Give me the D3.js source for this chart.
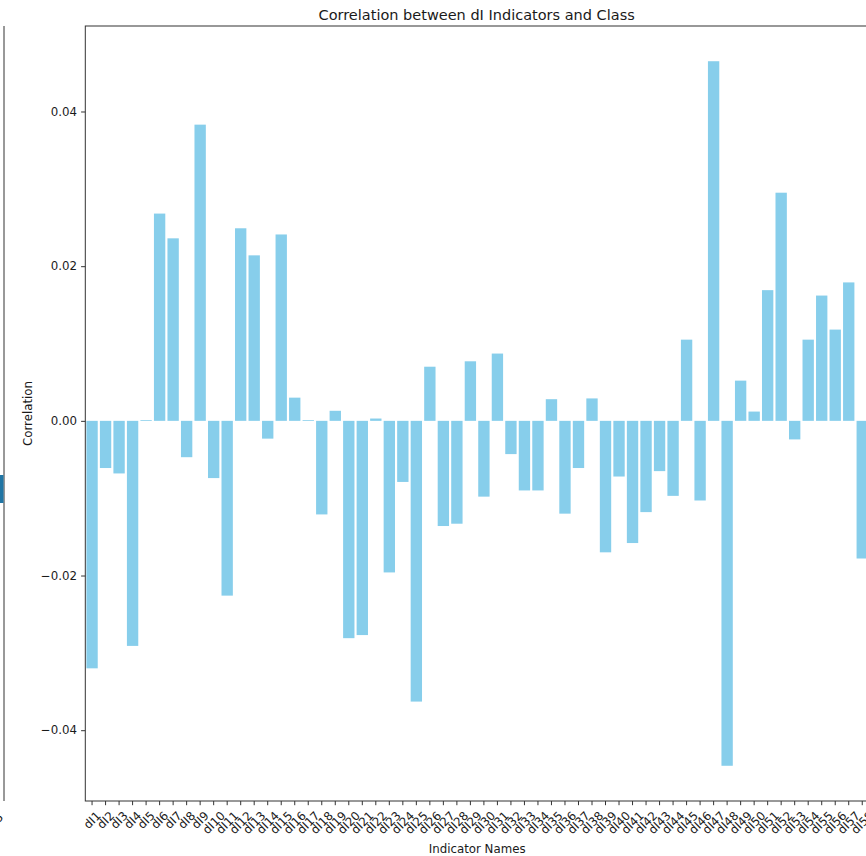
<!DOCTYPE html>
<html>
<head>
<meta charset="utf-8">
<script src="https://cdn.jsdelivr.net/npm/d3@7/dist/d3.min.js"></script>
<style>
  html, body { margin: 0; padding: 0; background: #fff; overflow: hidden; }
  svg { display: block; font-family: "DejaVu Sans", sans-serif; }
</style>
</head>
<body>
<svg id="chart" width="866" height="856"></svg>
<script>
// Indicator names dI1 .. dI58
const indicators = d3.range(1, 59).map(i => "dI" + i);

// Correlation of each indicator with the class label
const correlations = [
  -0.0320, -0.0061, -0.0068, -0.0291,  0.0001,  0.0268,  0.0236, -0.0047,  0.0383, -0.0074,
  -0.0226,  0.0249,  0.0214, -0.0023,  0.0241,  0.0030,  0.0001, -0.0121,  0.0013, -0.0281,
  -0.0277,  0.0003, -0.0196, -0.0079, -0.0363,  0.0070, -0.0136, -0.0133,  0.0077, -0.0098,
   0.0087, -0.0043, -0.0090, -0.0090,  0.0028, -0.0120, -0.0061,  0.0029, -0.0170, -0.0072,
  -0.0158, -0.0118, -0.0065, -0.0097,  0.0105, -0.0103,  0.0465, -0.0446,  0.0052,  0.0012,
   0.0169,  0.0295, -0.0024,  0.0105,  0.0162,  0.0118,  0.0179, -0.0178
];

const yTicks = [-0.04, -0.02, 0.00, 0.02, 0.04];

const titleText = "Correlation between dI Indicators and Class";
const xLabelText = "Indicator Names";
const yLabelText = "Correlation";

const svg = d3.select("#chart");
const ink = "#1a1a1a";
const fs = 11.8;

// plot area (right edge runs past the page)
const L = 85.3, T = 26, R = 869, B = 801;

const x = d3.scaleBand()
  .domain(indicators)
  .range([L, R])
  .paddingInner(0.16)
  .paddingOuter(0.08);

// 5% margin around the data extent
const lo = d3.min(correlations), hi = d3.max(correlations);
const m = (hi - lo) * 0.05;
const y = d3.scaleLinear().domain([lo - m, hi + m]).range([B, T]);

// edge of the neighbouring panel on the left
svg.append("line")
  .attr("x1", 4).attr("x2", 4).attr("y1", T).attr("y2", B)
  .attr("stroke", "#333").attr("stroke-width", 1);
svg.append("rect")
  .attr("x", 0).attr("y", 475).attr("width", 3.5).attr("height", 28)
  .attr("fill", "#2176a5");
svg.append("text")
  .attr("transform", "translate(4,818) rotate(-45)")
  .attr("text-anchor", "end")
  .attr("font-size", fs).attr("fill", ink)
  .text("5");

// bars
svg.append("g").selectAll("rect")
  .data(correlations)
  .join("rect")
  .attr("x", (d, i) => x(indicators[i]))
  .attr("width", x.bandwidth())
  .attr("y", d => y(Math.max(0, d)))
  .attr("height", d => Math.abs(y(d) - y(0)))
  .attr("fill", "skyblue");

// frame
svg.append("rect")
  .attr("x", L).attr("y", T).attr("width", R - L).attr("height", B - T)
  .attr("fill", "none").attr("stroke", "#333").attr("stroke-width", 1);

// y axis
const yAxis = d3.axisLeft(y)
  .tickValues(yTicks)
  .tickSize(4.2)
  .tickPadding(4.2)
  .tickFormat(d => d3.format(".2f")(d).replace("-", "\u2212"));
const gy = svg.append("g").attr("transform", `translate(${L},0)`).call(yAxis);
gy.select(".domain").remove();
gy.selectAll("line").attr("stroke", "#333");
gy.selectAll("text").attr("font-size", fs).attr("fill", ink)
  .attr("font-family", "DejaVu Sans");

// x axis
const xAxis = d3.axisBottom(x).tickSize(4.2).tickFormat("");
const gx = svg.append("g").attr("transform", `translate(0,${B})`).call(xAxis);
gx.select(".domain").remove();
gx.selectAll("line").attr("stroke", "#333");

// rotated x tick labels, centred under each tick
const xl = svg.append("g");
indicators.forEach(name => {
  const t = xl.append("text")
    .attr("font-size", fs).attr("fill", ink)
    .attr("text-anchor", "middle")
    .attr("dy", "0.35em")
    .text(name);
  const w = t.node().getComputedTextLength();
  const h = (w + fs) * Math.SQRT1_2;
  const cx = x(name) + x.bandwidth() / 2;
  const cy = B + 8.4 + h / 2;
  t.attr("transform", `translate(${cx},${cy}) rotate(-45)`);
});

// titles
svg.append("text")
  .attr("x", (L + R) / 2 - 0.5).attr("y", 19.5)
  .attr("text-anchor", "middle")
  .attr("font-size", 14.5).attr("fill", ink)
  .text(titleText);

svg.append("text")
  .attr("x", (L + R) / 2).attr("y", 852.5)
  .attr("text-anchor", "middle")
  .attr("font-size", fs).attr("fill", ink)
  .text(xLabelText);

svg.append("text")
  .attr("transform", `translate(32,${(T + B) / 2}) rotate(-90)`)
  .attr("text-anchor", "middle")
  .attr("font-size", fs).attr("fill", ink)
  .text(yLabelText);
</script>
</body>
</html>
